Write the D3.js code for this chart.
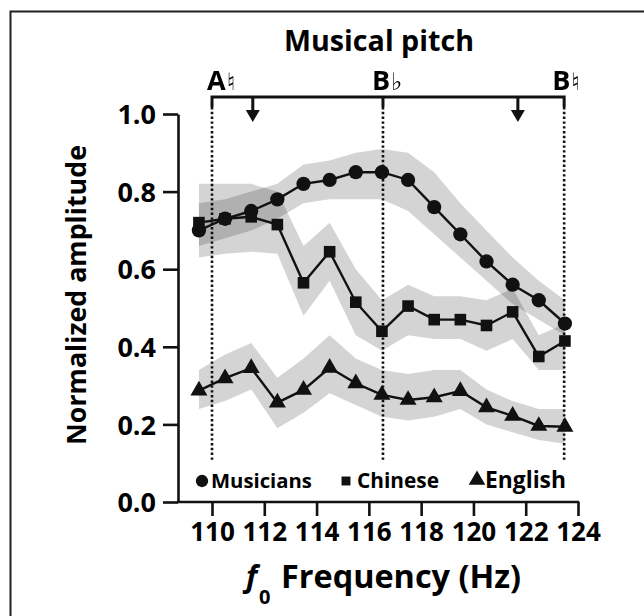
<!DOCTYPE html>
<html><head><meta charset="utf-8">
<script src="https://cdn.jsdelivr.net/npm/d3@7"></script>
<style>
body{margin:0;background:#fff;}
svg{display:block;}
text{font-family:"Open Sans","DejaVu Sans",sans-serif;font-weight:700;fill:#000;}
.acc{font-family:"DejaVu Sans","Noto Sans CJK JP","Noto Sans",sans-serif;font-weight:700;}
.note{opacity:0.995;will-change:transform;}
</style></head>
<body>
<svg id="chart" width="644" height="616"></svg>
<script>
// ---- data ----
const freqs = [109.5,110.5,111.5,112.5,113.5,114.5,115.5,116.5,117.5,118.5,119.5,120.5,121.5,122.5,123.5];
const musicians   = [0.70,0.73,0.75,0.78,0.82,0.83,0.85,0.85,0.83,0.76,0.69,0.62,0.56,0.52,0.46];
const musiciansHi = [0.77,0.78,0.80,0.82,0.87,0.88,0.90,0.91,0.90,0.85,0.77,0.70,0.63,0.57,0.52];
const musiciansLo = [0.66,0.68,0.70,0.73,0.77,0.78,0.78,0.78,0.75,0.69,0.63,0.57,0.51,0.47,0.43];
const chinese     = [0.72,0.73,0.735,0.715,0.565,0.645,0.515,0.44,0.505,0.47,0.47,0.455,0.49,0.375,0.415];
const chineseHi   = [0.82,0.82,0.82,0.80,0.66,0.72,0.60,0.52,0.56,0.53,0.53,0.52,0.55,0.43,0.46];
const chineseLo   = [0.63,0.64,0.645,0.64,0.48,0.57,0.43,0.39,0.43,0.42,0.42,0.39,0.42,0.34,0.34];
const english     = [0.287,0.319,0.345,0.256,0.289,0.346,0.306,0.276,0.263,0.270,0.286,0.244,0.222,0.196,0.194];
const englishHi   = [0.34,0.38,0.41,0.32,0.37,0.43,0.37,0.34,0.33,0.34,0.34,0.29,0.26,0.24,0.24];
const englishLo   = [0.24,0.26,0.29,0.19,0.23,0.28,0.25,0.22,0.21,0.22,0.24,0.20,0.18,0.16,0.15];
const seriesNames = ["Musicians","Chinese","English"];
const xTicks = [110,112,114,116,118,120,122,124];
const yTicks = [0,0.2,0.4,0.6,0.8,1.0];
const noteLetters = ["A","B","B"];
const noteAccidentals = ["\u266E\uFE0E","\u266D\uFE0E","\u266E\uFE0E"];
const noteFreqs = [110,116.54,123.47];
const arrowFreqs = [111.56,121.7];

// ---- drawing ----
const svg = d3.select("#chart");
const x = d3.scaleLinear().domain([110,124]).range([212,578]);
const y = d3.scaleLinear().domain([0,1]).range([502,114]);
const ink = "#111";

function fit(sel, target){
  const w = sel.node().getComputedTextLength();
  const fs = parseFloat(sel.style("font-size"));
  if (w > 0) sel.style("font-size", (fs*target/w).toFixed(2)+"px");
  return sel;
}

// frame (top & left only visible)
svg.append("path").attr("d","M10.5,640V11.5H660").attr("fill","none").attr("stroke","#231f20").attr("stroke-width",2);

// bands
const series = [
  {name:seriesNames[0], v:musicians, hi:musiciansHi, lo:musiciansLo, sym:d3.symbolCircle, size:160},
  {name:seriesNames[1], v:chinese, hi:chineseHi, lo:chineseLo, sym:d3.symbolSquare, size:135},
  {name:seriesNames[2], v:english, hi:englishHi, lo:englishLo, sym:d3.symbolTriangle, size:125}
];
const area = d3.area().x((d,i)=>x(freqs[i])).y0(d=>y(d[0])).y1(d=>y(d[1]));
series.forEach(s=>{
  svg.append("path").datum(s.lo.map((l,i)=>[l,s.hi[i]]))
    .attr("d",area).attr("fill","#000").attr("fill-opacity",0.17);
});

// dotted note lines
noteFreqs.forEach(f=>{
  svg.append("line").attr("x1",x(f)).attr("x2",x(f)).attr("y1",107).attr("y2",461)
    .attr("stroke",ink).attr("stroke-width",2.6).attr("stroke-dasharray","2.4 2.4");
});

// lines + markers
const line = d3.line().x((d,i)=>x(freqs[i])).y(d=>y(d));
series.forEach(s=>{
  svg.append("path").datum(s.v).attr("d",line).attr("fill","none").attr("stroke",ink).attr("stroke-width",2.4);
  svg.selectAll(null).data(s.v).enter().append("path")
    .attr("transform",(d,i)=>`translate(${x(freqs[i])},${y(d)})`)
    .attr("d",d3.symbol().type(s.sym).size(s.size)).attr("fill",ink);
});

// axes
const yAxis = d3.axisLeft(y).tickValues(yTicks).tickFormat(d3.format(".1f")).tickSize(15).tickSizeOuter(0).tickPadding(7);
const gy = svg.append("g").attr("transform","translate(178,0)").call(yAxis);
gy.selectAll("text").style("font-size","27px").attr("dy","0.36em");
const xAxis = d3.axisBottom(x).tickValues(xTicks).tickFormat(d3.format("d")).tickSize(14).tickSizeOuter(0).tickPadding(7);
const gx = svg.append("g").attr("transform","translate(0,502)").call(xAxis);
gx.select(".domain").remove();
gx.selectAll("text").style("font-size","26px");
svg.append("line").attr("x1",177).attr("x2",x(124)+1.2).attr("y1",502).attr("y2",502).attr("stroke",ink).attr("stroke-width",2.6);
svg.selectAll(".domain, .tick line").attr("stroke",ink).attr("stroke-width",2.6);

// axis titles
fit(svg.append("text").attr("transform","translate(86,295) rotate(-90)").attr("text-anchor","middle")
  .style("font-size","24px").text("Normalized amplitude"), 300);
svg.append("text").attr("x",246).attr("y",587).style("font-size","30px").style("font-style","italic").text("f");
svg.append("text").attr("x",259).attr("y",604).style("font-size","20px").text("0");
fit(svg.append("text").attr("x",281).attr("y",588).style("font-size","24px").text("Frequency (Hz)"), 240);

// pitch bracket
fit(svg.append("text").attr("x",379).attr("y",51).attr("text-anchor","middle").style("font-size","25px").text("Musical pitch"), 190);
svg.append("path")
  .attr("d",`M${x(noteFreqs[0])},107V97H${x(noteFreqs[2])}V107M${x(noteFreqs[1])},97V107`)
  .attr("fill","none").attr("stroke",ink).attr("stroke-width",3);
const noteDx = [-5,-11,-12];
noteLetters.forEach((t,i)=>{
  const tx = svg.append("text").attr("class","note").attr("x",x(noteFreqs[i])+noteDx[i]).attr("y",90).style("font-size","27px");
  tx.append("tspan").text(t);
  tx.append("tspan").attr("class","acc").attr("dx",1).style("font-size","24px").style("fill","#000").text(noteAccidentals[i]);
});
arrowFreqs.forEach(f=>{
  const ax = x(f);
  svg.append("line").attr("x1",ax).attr("x2",ax).attr("y1",97).attr("y2",112).attr("stroke",ink).attr("stroke-width",3);
  svg.append("path").attr("d",`M${ax-7},110H${ax+7}L${ax},122Z`).attr("fill",ink);
});

// legend
const legX = [202,346,477];
const legText = [211,357,485];
const legW = [101,82,81];
series.forEach((s,i)=>{
  svg.append("path").attr("transform",`translate(${legX[i]},${i===2?480:481})`)
    .attr("d",d3.symbol().type(s.sym).size(i===1?80:120)).attr("fill",ink);
  fit(svg.append("text").attr("x",legText[i]).attr("y",488).style("font-size","18px").text(s.name), legW[i]);
});
</script>
</body></html>
